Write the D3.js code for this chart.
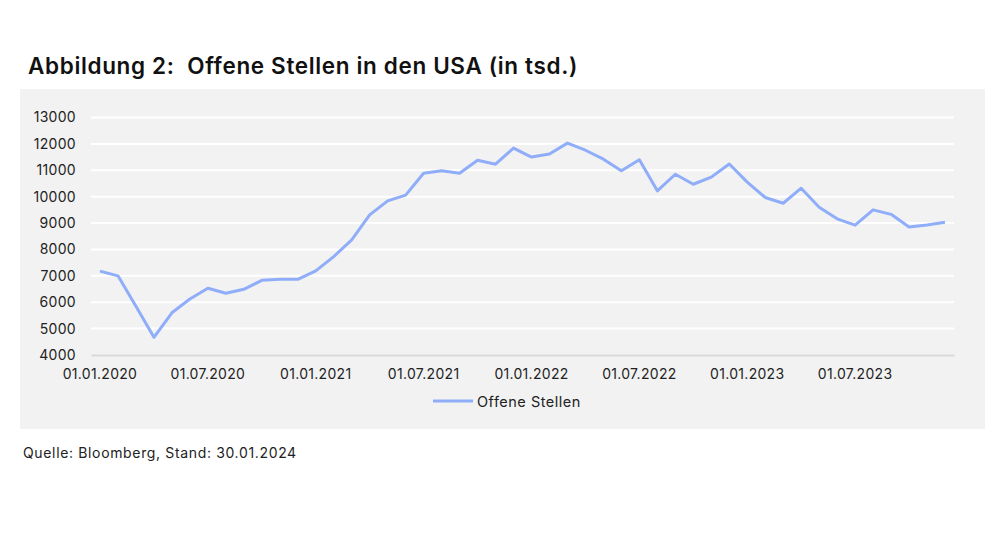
<!DOCTYPE html>
<html>
<head>
<meta charset="utf-8">
<script src="https://cdn.jsdelivr.net/npm/d3@7"></script>
<style>
  body { margin: 0; background: #fff; }
  text { font-family: Inter, "Open Sans", sans-serif; }
</style>
</head>
<body>
<div class="chart"></div>
<script>
const width = 996, height = 560;

// monthly, Jan 2020 .. Dec 2023
const months = d3.range(48).map(i => new Date(2020, i, 1));
const jobOpenings = [
  7180, 7000, 5850, 4670, 5600, 6120, 6530, 6340, 6490, 6830, 6870, 6870,
  7185, 7730, 8360, 9310, 9840, 10060, 10890, 10980, 10890, 11380, 11230, 11840,
  11500, 11620, 12030, 11760, 11420, 10980, 11400, 10220, 10850, 10470, 10740, 11240,
  10550, 9970, 9750, 10320, 9600, 9160, 8920, 9500, 9330, 8850, 8930, 9030
];
const yTicks = [4000, 5000, 6000, 7000, 8000, 9000, 10000, 11000, 12000, 13000];
const seriesName = "Offene Stellen";
const fmtDate = d3.timeFormat("%d.%m.%Y");

const svg = d3.select(".chart").append("svg")
  .attr("width", width)
  .attr("height", height);

// grey panel
svg.append("rect")
  .attr("x", 20).attr("y", 89)
  .attr("width", 965).attr("height", 340)
  .attr("fill", "#f2f2f2");

svg.append("text")
  .attr("x", 28).attr("y", 74)
  .attr("font-size", 22.5)
  .attr("font-weight", 600)
  .attr("letter-spacing", 0.65)
  .attr("fill", "#111")
  .attr("xml:space", "preserve")
  .text("Abbildung 2:  Offene Stellen in den USA (in tsd.)");

const x = d3.scaleBand()
  .domain(months.map(fmtDate))
  .range([91, 954]);

const y = d3.scaleLinear()
  .domain([4000, 13000])
  .range([355, 117.5]);

// gridlines
svg.append("g")
  .selectAll("line")
  .data(yTicks.slice(1))
  .join("line")
  .attr("x1", 91).attr("x2", 954)
  .attr("y1", d => y(d)).attr("y2", d => y(d))
  .attr("stroke", "#fff")
  .attr("stroke-width", 2);

// y axis labels
const yAxis = svg.append("g")
  .attr("transform", "translate(91,0)")
  .call(d3.axisLeft(y).tickValues(yTicks).tickSize(0).tickPadding(15).tickFormat(d3.format("d")));
yAxis.select(".domain").remove();
yAxis.selectAll("text")
  .attr("font-size", 14)
  .attr("letter-spacing", 0.3)
  .attr("fill", "#222")
  .style("font-family", "Inter, sans-serif");

// x axis
const xAxis = svg.append("g")
  .attr("transform", "translate(0,355)")
  .call(d3.axisBottom(x)
    .tickValues(months.filter((d, i) => i % 6 === 0).map(fmtDate))
    .tickSize(0).tickPadding(14));
xAxis.select(".domain")
  .attr("stroke", "#d9d9d9")
  .attr("stroke-width", 2);
xAxis.selectAll("text")
  .attr("font-size", 14)
  .attr("letter-spacing", 0.3)
  .attr("fill", "#222")
  .style("font-family", "Inter, sans-serif");

// line
const line = d3.line()
  .x((d, i) => x(fmtDate(months[i])) + x.bandwidth() / 2)
  .y(d => y(d));

svg.append("path")
  .datum(jobOpenings)
  .attr("d", line)
  .attr("fill", "none")
  .attr("stroke", "#8fadf8")
  .attr("stroke-width", 3)
  .attr("stroke-linejoin", "round");

// legend
svg.append("line")
  .attr("x1", 433).attr("x2", 473)
  .attr("y1", 401).attr("y2", 401)
  .attr("stroke", "#8fadf8")
  .attr("stroke-width", 3);
svg.append("text")
  .attr("x", 477).attr("y", 406.5)
  .attr("font-size", 14.5)
  .attr("letter-spacing", 0.5)
  .attr("fill", "#222")
  .text(seriesName);

svg.append("text")
  .attr("x", 23).attr("y", 458)
  .attr("font-size", 14)
  .attr("letter-spacing", 0.65)
  .attr("fill", "#222")
  .text("Quelle: Bloomberg, Stand: 30.01.2024");
</script>
</body>
</html>
